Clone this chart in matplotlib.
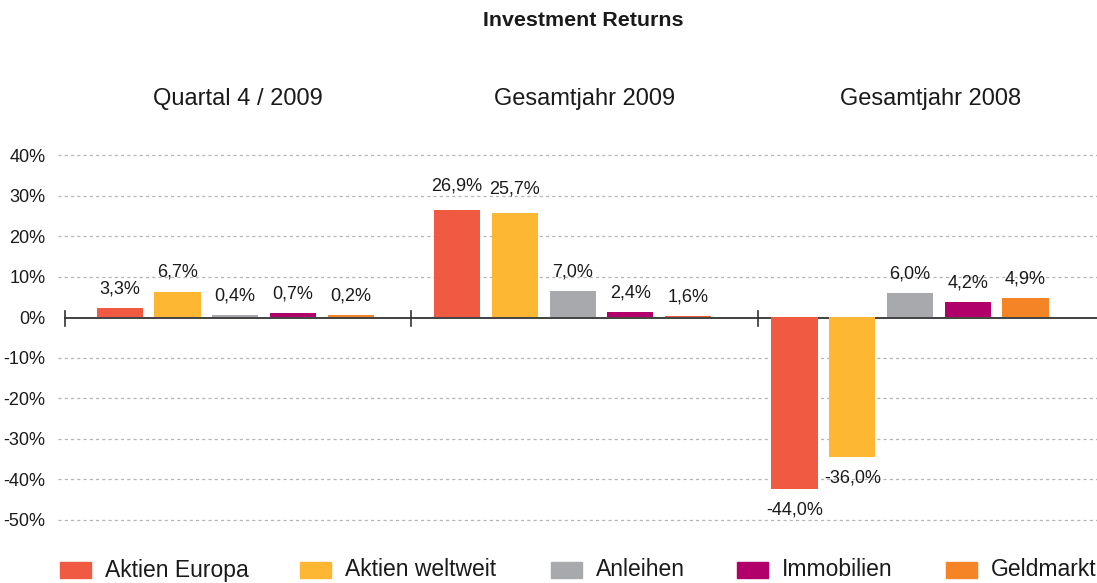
import matplotlib
matplotlib.use("Agg")
from matplotlib import pyplot as plt
from matplotlib.patches import Rectangle
from matplotlib.transforms import blended_transform_factory

plt.rcParams['font.family'] = ['Liberation Sans', 'DejaVu Sans']

# data
groups = ['Quartal 4 / 2009', 'Gesamtjahr 2009', 'Gesamtjahr 2008']
series = ['Aktien Europa', 'Aktien weltweit', 'Anleihen', 'Immobilien', 'Geldmarkt']
# bar heights as drawn (percent)
heights = [
    [2.35, 6.4, 0.7, 1.1, 0.6],
    [26.6, 25.7, 6.6, 1.4, 0.45],
    [-42.3, -34.4, 6.0, 3.8, 4.8],
]
# printed value labels
labels = [
    ['3,3%', '6,7%', '0,4%', '0,7%', '0,2%'],
    ['26,9%', '25,7%', '7,0%', '2,4%', '1,6%'],
    ['-44,0%', '-36,0%', '6,0%', '4,2%', '4,9%'],
]
colors = ['#F05A42', '#FDB733', '#A7A9AC', '#B10069', '#F58426']
# the Geldmarkt bar in "Gesamtjahr 2009" is drawn in red in the original
color_override = {(1, 4): '#F05A42'}
yticks = [-50, -40, -30, -20, -10, 0, 10, 20, 30, 40]

W, H = 1097, 583
fig = plt.figure(figsize=(W / 100, H / 100), dpi=100)
ax = fig.add_axes([58 / W, 1 - 540.25 / H, 1 - 58 / W, 405 / H])
ax.set_xlim(-0.07, 17.93)
ax.set_ylim(-55, 45)
title_tr = blended_transform_factory(ax.transData, fig.transFigure)

txt = '#1a1a1a'
for g in range(len(groups)):
    for i in range(len(series)):
        x = g * 5.845 + 1 + i
        h = heights[g][i]
        c = color_override.get((g, i), colors[i])
        ax.bar(x, h, width=0.8, color=c, zorder=3)
        if h >= 0:
            # the two big bars have their labels a bit higher
            off = 14 if h > 20 else 10.5
            ax.annotate(labels[g][i], (x, h), xytext=(0, off), textcoords='offset points',
                        ha='center', va='baseline', fontsize=13, color=txt)
        else:
            ax.annotate(labels[g][i], (x, h), xytext=(0, -9), textcoords='offset points',
                        ha='center', va='top', fontsize=13, color=txt)
    sep = g * 6 + 0.05
    ax.plot([sep, sep], [-2.1, 1.6], color='#333333', lw=1.2, zorder=4)
    ax.text(sep + 3, 1 - 99 / H, groups[g], transform=title_tr,
            ha='center', va='center', fontsize=17, color=txt)

# dashed gridlines
for t in yticks:
    if t != 0:
        ax.axhline(t, color='#b5b5b5', lw=0.9, ls=(0, (2.5, 2.5)), zorder=1)
ax.plot([0.05, 17.93], [-0.15, -0.15], color='#333333', lw=1.3, zorder=2)

ax.set_yticks(yticks)
ax.set_yticklabels([f'{t}%' for t in yticks], fontsize=13, color=txt)
ax.tick_params(axis='y', length=0, pad=9)
ax.set_xticks([])
for s in ax.spines.values():
    s.set_visible(False)

fig.text(583 / W, 1 - 21 / H, 'Investment Returns', ha='center', va='center',
         fontsize=15.4, fontweight='bold', color=txt)

# legend
leg_x = [60, 300, 551, 737, 946]
for i, name in enumerate(series):
    fig.patches.append(Rectangle((leg_x[i] / W, 1 - 578 / H), 31 / W, 16 / H,
                                 transform=fig.transFigure, color=colors[i]))
    fig.text((leg_x[i] + 45) / W, 1 - 570 / H, name, ha='left', va='center',
             fontsize=16.5, color=txt)

plt.savefig('out.png', dpi=100)
plt.close()
